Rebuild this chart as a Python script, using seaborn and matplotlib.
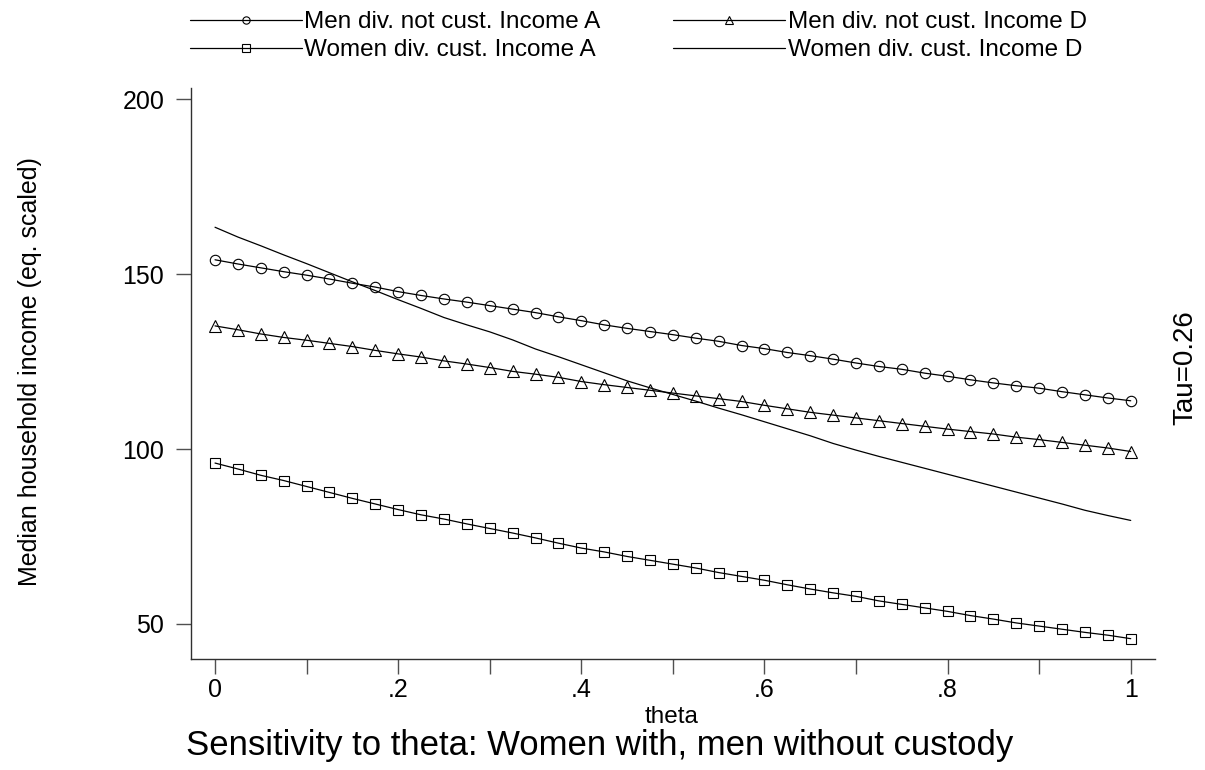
import matplotlib
matplotlib.use("Agg")
import matplotlib.pyplot as plt
import seaborn as sns
import pandas as pd

# x grid (theta) and median household income for each group
theta = [0.0, 0.025, 0.05, 0.075, 0.1, 0.125, 0.15, 0.175, 0.2, 0.225,
         0.25, 0.275, 0.3, 0.325, 0.35, 0.375, 0.4, 0.425, 0.45, 0.475,
         0.5, 0.525, 0.55, 0.575, 0.6, 0.625, 0.65, 0.675, 0.7, 0.725,
         0.75, 0.775, 0.8, 0.825, 0.85, 0.875, 0.9, 0.925, 0.95, 0.975, 1.0]

men_a = [154.1, 152.9, 151.8, 150.7, 149.7, 148.6, 147.4, 146.3, 145.0, 143.9,
         142.9, 142.0, 141.0, 140.0, 139.0, 137.8, 136.7, 135.5, 134.5, 133.6,
         132.7, 131.7, 130.8, 129.6, 128.7, 127.6, 126.7, 125.7, 124.6, 123.6,
         122.8, 121.7, 120.8, 119.8, 118.9, 118.1, 117.4, 116.4, 115.5, 114.6, 113.8]

men_d = [135.2, 134.1, 132.9, 131.9, 131.1, 130.2, 129.3, 128.2, 127.2, 126.3,
         125.2, 124.3, 123.3, 122.2, 121.4, 120.5, 119.3, 118.4, 117.6, 116.8,
         116.0, 115.2, 114.4, 113.6, 112.5, 111.5, 110.5, 109.7, 108.9, 108.1,
         107.3, 106.5, 105.7, 105.0, 104.3, 103.4, 102.7, 101.9, 101.1, 100.3, 99.3]

women_a = [96.0, 94.3, 92.5, 91.0, 89.3, 87.6, 85.9, 84.3, 82.7, 81.2,
           80.0, 78.6, 77.3, 76.0, 74.6, 73.1, 71.7, 70.6, 69.3, 68.2,
           67.1, 66.0, 64.7, 63.6, 62.5, 61.2, 60.0, 58.9, 57.9, 56.6,
           55.6, 54.6, 53.6, 52.4, 51.4, 50.3, 49.4, 48.5, 47.6, 46.8, 45.8]

women_d = [163.4, 160.6, 158.1, 155.5, 153.0, 150.4, 147.8, 145.3, 142.7, 140.2,
           137.6, 135.5, 133.5, 131.2, 128.6, 126.4, 124.1, 121.8, 119.5, 117.5,
           115.6, 113.7, 111.7, 109.8, 107.8, 105.8, 103.8, 101.6, 99.7, 97.9,
           96.2, 94.5, 92.8, 91.1, 89.4, 87.7, 86.0, 84.3, 82.5, 81.0, 79.6]

series_labels = ["Men div. not cust. Income A", "Women div. cust. Income A",
                 "Men div. not cust. Income D", "Women div. cust. Income D"]

x_ticks = [0.0, 0.1, 0.2, 0.3, 0.4, 0.5, 0.6, 0.7, 0.8, 0.9, 1.0]
x_tick_labels = ["0", "", ".2", "", ".4", "", ".6", "", ".8", "", "1"]
y_ticks = [50, 100, 150, 200]

sns.set_theme(style="ticks")
plt.rcParams["font.family"] = ["Liberation Sans", "DejaVu Sans"]

fig = plt.figure(figsize=(12.05, 7.7), dpi=100)
ax = fig.add_axes([0.1583, 0.1442, 0.8002, 0.7415])

df = pd.DataFrame({"theta": theta, "men_a": men_a, "women_a": women_a,
                   "men_d": men_d, "women_d": women_d})

styles = [("men_a", "o", 7.5), ("women_a", "s", 7.5), ("men_d", "^", 8.5), ("women_d", None, 0)]
for (col, mk, ms), lab in zip(styles, series_labels):
    kw = dict(color="black", linewidth=0.9, label=lab, ax=ax)
    if mk is not None:
        kw.update(marker=mk, markersize=ms, markerfacecolor="none",
                  markeredgecolor="black", markeredgewidth=0.8)
    sns.lineplot(data=df, x="theta", y=col, **kw)

ax.set_xlim(-0.0265, 1.0265)
ax.set_ylim(40.0, 203.2)
ax.set_xticks(x_ticks)
ax.set_xticklabels(x_tick_labels)
ax.set_yticks(y_ticks)
ax.set_yticklabels([str(v) for v in y_ticks])

for side in ["top", "right"]:
    ax.spines[side].set_visible(False)
for side in ["left", "bottom"]:
    ax.spines[side].set_color("#303030")
    ax.spines[side].set_linewidth(1.0)

ax.tick_params(axis="both", which="major", direction="out", length=10.5,
               width=1.0, color="#505050", labelsize=18, labelcolor="black",
               bottom=True, left=True)
ax.tick_params(axis="y", pad=8.5)
ax.tick_params(axis="x", pad=3)

ax.set_xlabel("theta", fontsize=17.5, color="black")
ax.xaxis.set_label_coords(0.499, -0.112)
ax.xaxis.label.set_va("baseline")
ax.set_ylabel("")

fig.text(30 / 1205, 1 - 372 / 770, "Median household income (eq. scaled)",
         rotation=90, ha="center", va="center", fontsize=18, color="black")
fig.text(1185 / 1205, 1 - 368 / 770, "Tau=0.26", rotation=90,
         ha="center", va="center", fontsize=20, color="black")
fig.text(600 / 1205, 1 - 755 / 770,
         "Sensitivity to theta: Women with, men without custody",
         ha="center", va="baseline", fontsize=25, color="black")

handles, labels = ax.get_legend_handles_labels()
if ax.get_legend() is not None:
    ax.get_legend().remove()
fig.legend(handles, labels, ncol=2, loc="upper left",
           bbox_to_anchor=(190 / 1205, 1 - 11 / 770), frameon=False,
           fontsize=17.5, handlelength=4.6, handletextpad=0.1,
           columnspacing=3.0, labelspacing=0.25, markerscale=0.7,
           borderpad=0.0, borderaxespad=0.0, labelcolor="black")

fig.savefig("out.png", dpi=100, facecolor="white")
